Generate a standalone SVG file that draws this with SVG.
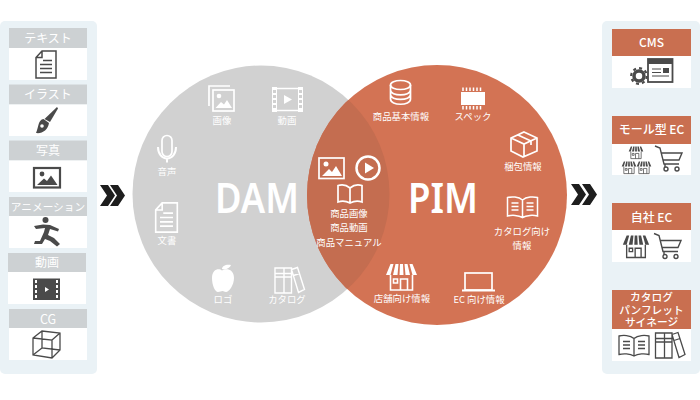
<svg xmlns="http://www.w3.org/2000/svg" width="700" height="400" viewBox="0 0 700 400">
<style>
text{font-family:"Noto Sans CJK JP","Noto Sans",sans-serif;text-anchor:middle}
.h{fill:#fff;font-size:12px;font-weight:400}
.b{font-weight:500}
.l{fill:#fff;font-size:9.400px;font-weight:400}
.big{fill:#fff;font-size:41px;font-weight:600;font-family:"Noto Sans","Noto Sans CJK JP",sans-serif}
.w{fill:none;stroke:#fff;stroke-width:1.700}
.gh{fill:#cdd1d3}.oh{fill:#c96f50}.card{fill:#fff}
.panel{fill:#eaf2f6}
.dk{fill:none;stroke:#4a4a4a;stroke-width:1.500}
</style>
<defs>
<clipPath id="damclip"><circle cx="261" cy="194" r="128.500"/></clipPath>
<g id="doc"><path d="M-4-13.500H10V13.500H-10V-7Z M-4-13.500V-7H-10M-3-4H6M-6 0H6M-6 4H6M-6 8H6"/></g>
<g id="book"><path d="M0-7C-4-10.500-11-10.500-15-9.500V9C-11 8-4 8 0 10.500C4 8 11 8 15 9V-9.500C11-10.500 4-10.500 0-7ZM0-7V10.500"/><path d="M-11-4H-4M-11-0.500H-4M-11 3H-4M4-4H11M4-0.500H11M4 3H11"/></g>
<g id="books"><path d="M-14.500-12.500H-5.500V12.500H-14.500ZM-5.500-12.500H2V12.500H-5.500ZM2-11L8-13L15 9L9 12ZM-14.500-7H-5.500M-14.500-3.500H-5.500M-5.500-7H2M-5.500-3.500H2M4-5L10-7"/></g>
<g id="shop"><path d="M-11-2V13H11V-2M-1 13V2H6V13M-8 2H-4V6H-8Z" fill="none" stroke-width="1.600"/><path d="M-11-13H-8L-11-2H-15.500ZM-6-13H-3L-4-2H-8.500ZM-1.500-13H1.500L2-2H-2ZM3-13H6L8.500-2H4ZM8-13H11L15.500-2H11Z" stroke="none"/></g>
<g id="cart"><path d="M-14-13L-9-11L-5 5H10M-8-6H13L10 1H-6M-4 5V8"/><circle cx="-3" cy="10" r="2"/><circle cx="8" cy="10" r="2"/></g>
<path id="chev" d="M0 0H8L15 10.500L8 21H0L7 10.500Z" fill="#1e1e1e"/>
</defs>

<g id="diagram-venn">
<circle cx="261" cy="194" r="128.500" fill="#d1d1d1"/>
<circle cx="437" cy="195" r="130" fill="#d37354"/>
<circle cx="437" cy="195" r="130" fill="#c46d50" clip-path="url(#damclip)"/>
</g>

<g id="connectors">
<use href="#chev" x="100" y="185"/><use href="#chev" x="110" y="185"/>
<use href="#chev" x="571" y="184"/><use href="#chev" x="582" y="184"/>
</g>

<g id="left-panel">
<rect class="panel" x="0" y="21" width="97" height="353" rx="5"/>
<g id="n-text"><rect class="gh" x="9" y="28" width="78" height="20"/><rect class="card" x="9" y="48" width="78" height="32"/><text class="h" x="48" y="43">テキスト</text><use href="#doc" transform="translate(46 64.500)" fill="none" stroke="#4a4a4a" stroke-width="1.500"/></g>
<g id="n-illust"><rect class="gh" x="9" y="84.500" width="78" height="20"/><rect class="card" x="9" y="104.500" width="78" height="31.500"/><text class="h" x="48" y="99">イラスト</text><path d="M57 107L58 108.500L50 122L44.500 119Z" fill="#4a4a4a"/><path d="M43.500 119C38 120 39 126 36 133C42 134 48 130 49 123Z" fill="#4a4a4a"/><circle cx="42" cy="126" r="1.800" fill="#fff"/></g>
<g id="n-photo"><rect class="gh" x="9" y="140.500" width="78" height="20"/><rect class="card" x="9" y="160.500" width="78" height="31.500"/><text class="h" x="48" y="155">写真</text><rect x="34" y="168" width="26" height="19.500" fill="none" stroke="#4a4a4a" stroke-width="2.200"/><circle cx="42" cy="174" r="2.400" fill="#4a4a4a"/><path d="M37 185L44 178.500L47 181L51 175.500L57.500 185Z" fill="#4a4a4a"/></g>
<g id="n-anim"><rect class="gh" x="9" y="197" width="78" height="19"/><rect class="card" x="9" y="216" width="78" height="32"/><text class="h" x="48" y="211" style="font-size:10.700px">アニメーション</text><circle cx="45.500" cy="220" r="3" fill="#4a4a4a"/><path d="M34 226L43 224.500L50 225L59 229L58 231.500L50 229L48 235L54 238L60 244L57 246.500L50 241L45 239L42 244L34 244L35 241L40 241L44 232L45 228L36 229Z" fill="#4a4a4a"/></g>
<g id="n-video"><rect class="gh" x="8" y="253" width="78" height="19"/><rect class="card" x="8" y="272" width="78" height="32"/><text class="h" x="47" y="267">動画</text><rect x="33" y="278.500" width="27" height="21.500" fill="#4a4a4a"/><path d="M35 280h2v3h-2zM35 285h2v3h-2zM35 290h2v3h-2zM35 295h2v3h-2zM56 280h2v3h-2zM56 285h2v3h-2zM56 290h2v3h-2zM56 295h2v3h-2zM45 287L49 289.500L45 292Z" fill="#fff"/></g>
<g id="n-cg"><rect class="gh" x="9" y="309" width="78" height="19"/><rect class="card" x="9" y="328" width="78" height="32"/><text class="h" x="48" y="324" style="font-size:12.500px">CG</text><path d="M33 338L42 331L60 333L60 350L52 358L33 355ZM33 338L52 340V358M52 340L60 333M42 331V348L60 350M42 348L33 355" fill="none" stroke="#4a4a4a" stroke-width="1.300"/></g>
</g>

<g id="right-panel">
<rect class="panel" x="602" y="21" width="98" height="353" rx="5"/>
<g id="n-cms"><rect class="oh" x="612" y="29" width="79" height="27"/><rect class="card" x="612" y="56" width="79" height="32"/><text class="h b" x="651.500" y="47">CMS</text>
<circle cx="639" cy="76" r="5" fill="none" stroke="#4a4a4a" stroke-width="3.500"/><circle cx="639" cy="76" r="7.800" fill="none" stroke="#4a4a4a" stroke-width="2.200" stroke-dasharray="3 3.100"/>
<rect x="648" y="59" width="24.500" height="23" fill="#fff" stroke="#4a4a4a" stroke-width="1.800"/><rect x="648" y="59" width="24.500" height="5" fill="#4a4a4a"/><path d="M652 69H661M652 72.500H661M652 76H669" stroke="#4a4a4a" stroke-width="1.200"/><rect x="663" y="68" width="6" height="5" fill="#4a4a4a"/></g>
<g id="n-mall"><rect class="oh" x="612" y="116" width="79" height="28"/><rect class="card" x="612" y="144" width="79" height="31"/><text class="h b" x="651.500" y="134">モール型 EC</text>
<use href="#shop" transform="translate(636 152.500) scale(.47)" fill="#4a4a4a" stroke="#4a4a4a"/><use href="#shop" transform="translate(629 167.500) scale(.47)" fill="#4a4a4a" stroke="#4a4a4a"/><use href="#shop" transform="translate(644 167.500) scale(.47)" fill="#4a4a4a" stroke="#4a4a4a"/>
<use href="#cart" transform="translate(669 159)" fill="none" stroke="#4a4a4a" stroke-width="1.400"/></g>
<g id="n-own"><rect class="oh" x="612" y="203" width="79" height="27"/><rect class="card" x="612" y="230" width="79" height="32"/><text class="h b" x="651.500" y="222">自社 EC</text>
<use href="#shop" transform="translate(636 246.500) scale(.85)" fill="#4a4a4a" stroke="#4a4a4a"/><use href="#cart" transform="translate(668 246.500)" fill="none" stroke="#4a4a4a" stroke-width="1.400"/></g>
<g id="n-cat"><rect class="oh" x="612" y="290" width="79" height="39"/><rect class="card" x="612" y="329" width="79" height="32"/>
<text class="h b" x="651.500" y="301" style="font-size:10.700px">カタログ</text><text class="h b" x="651.500" y="314" style="font-size:10.700px">パンフレット</text><text class="h b" x="651.500" y="326" style="font-size:10.700px">サイネージ</text>
<use href="#book" transform="translate(634 345.500)" fill="none" stroke="#4a4a4a" stroke-width="1.300"/><use href="#books" transform="translate(670 345.500)" fill="none" stroke="#4a4a4a" stroke-width="1.300"/></g>
</g>

<g id="dam-items">
<text class="big" x="257" y="213" textLength="84" lengthAdjust="spacingAndGlyphs">DAM</text>
<g id="d-image"><path class="w" d="M230 86H209V106"/><rect class="w" x="213" y="90" width="21" height="21"/><circle cx="219" cy="96" r="2.300" fill="#fff"/><path d="M215.500 108L221 102L224 104.500L227 100L232 108Z" fill="#fff"/><text class="l" x="222" y="123.500">画像</text></g>
<g id="d-video"><rect x="272" y="87" width="31" height="25" fill="#fff"/><rect x="277" y="87" width="21" height="25" fill="#d1d1d1"/><path d="M276 88.500H299M276 110.500H299" stroke="#fff" stroke-width="1.500"/><path d="M273 90h3v3h-3zM273 95h3v3h-3zM273 100h3v3h-3zM273 105h3v3h-3zM299 90h3v3h-3zM299 95h3v3h-3zM299 100h3v3h-3zM299 105h3v3h-3z" fill="#d1d1d1"/><path d="M284 95L292 99.500L284 104Z" fill="#fff"/><text class="l" x="287" y="124">動画</text></g>
<g id="d-voice"><rect x="162" y="135.500" width="10" height="21" rx="5" class="w"/><path class="w" style="stroke-width:2" d="M158 147C158 154 162 158.500 167 158.500C172 158.500 176 154 176 147M167 158.500V162.500"/><text class="l" x="167" y="174.500">音声</text></g>
<g id="d-doc"><use href="#doc" transform="translate(166.500 217.500) scale(1.080)" fill="none" stroke="#fff" stroke-width="1.500"/><text class="l" x="167" y="243.500">文書</text></g>
<g id="d-logo"><path d="M222 270.500C226 268 234 269 234 278C234 285 229 292 226 292C224 292 224 291 222.500 291C221 291 220 292 218 292C215 292 212 285 212 278C212 269 219 268 222 270.500Z" fill="#fff"/><path d="M222 269C222 266 226 264 231 265C230 268 226 270 222 269Z" fill="#fff"/><text class="l" x="223" y="303">ロゴ</text></g>
<g id="d-catalog"><use href="#books" transform="translate(289.500 280.500)" fill="none" stroke="#fff" stroke-width="1.400"/><text class="l" x="287" y="303">カタログ</text></g>
</g>

<g id="overlap-items">
<rect class="w" x="319" y="158" width="25" height="20.500"/><circle cx="326" cy="164" r="2.500" fill="#fff"/><path d="M322 176L329 169L332 172L336 166L342 176Z" fill="#fff"/>
<circle cx="368" cy="168" r="11.500" fill="none" stroke="#fff" stroke-width="2.500"/><path d="M365 162.500L374 168L365 173.500Z" fill="#fff"/>
<path class="w" d="M350 188C346 184.500 341 184.500 338 185.500V202C341 201 346 201 350 203C354 201 359 201 362 202V185.500C359 184.500 354 184.500 350 188ZM350 188V203"/>
<text class="l" x="349" y="216.500">商品画像</text><text class="l" x="349" y="231">商品動画</text><text class="l" x="349" y="245.500">商品マニュアル</text>
</g>

<g id="pim-items">
<text class="big" x="443" y="213" textLength="70" lengthAdjust="spacingAndGlyphs">PIM</text>
<g id="p-basic"><ellipse class="w" cx="400.500" cy="85" rx="10" ry="4.500"/><path class="w" d="M390.500 85V99C390.500 106 410.500 106 410.500 99V85M390.500 90C390.500 96.500 410.500 96.500 410.500 90M390.500 94.500C390.500 101 410.500 101 410.500 94.500"/><text class="l" x="401" y="119.500">商品基本情報</text></g>
<g id="p-spec"><rect x="461" y="92" width="24" height="13" fill="#fff"/><path d="M463 87.500V91M466.500 87.500V91M470 87.500V91M473.500 87.500V91M477 87.500V91M480.500 87.500V91M463 106V109.500M466.500 106V109.500M470 106V109.500M473.500 106V109.500M477 106V109.500M480.500 106V109.500" stroke="#fff" stroke-width="1.500"/><text class="l" x="473" y="119.500">スペック</text></g>
<g id="p-pack"><path class="w" d="M524 132L537 138V151L523 157L511 151V138Z M511 138L524 144L537 138M524 144V157M518 135L531 141V145"/><text class="l" x="523" y="169.500">梱包情報</text></g>
<g id="p-catalog"><use href="#book" transform="translate(522.500 207)" fill="none" stroke="#fff" stroke-width="1.500"/><text class="l" x="522" y="234.500">カタログ向け</text><text class="l" x="522" y="248.500">情報</text></g>
<g id="p-store"><use href="#shop" transform="translate(401.500 277)" fill="#fff" stroke="#fff"/><text class="l" x="402" y="301.500">店舗向け情報</text></g>
<g id="p-ec"><rect class="w" x="465" y="273" width="27" height="17"/><path d="M462 290.500H495" stroke="#fff" stroke-width="2"/><text class="l" x="479" y="302.500">EC 向け情報</text></g>
</g>
</svg>
